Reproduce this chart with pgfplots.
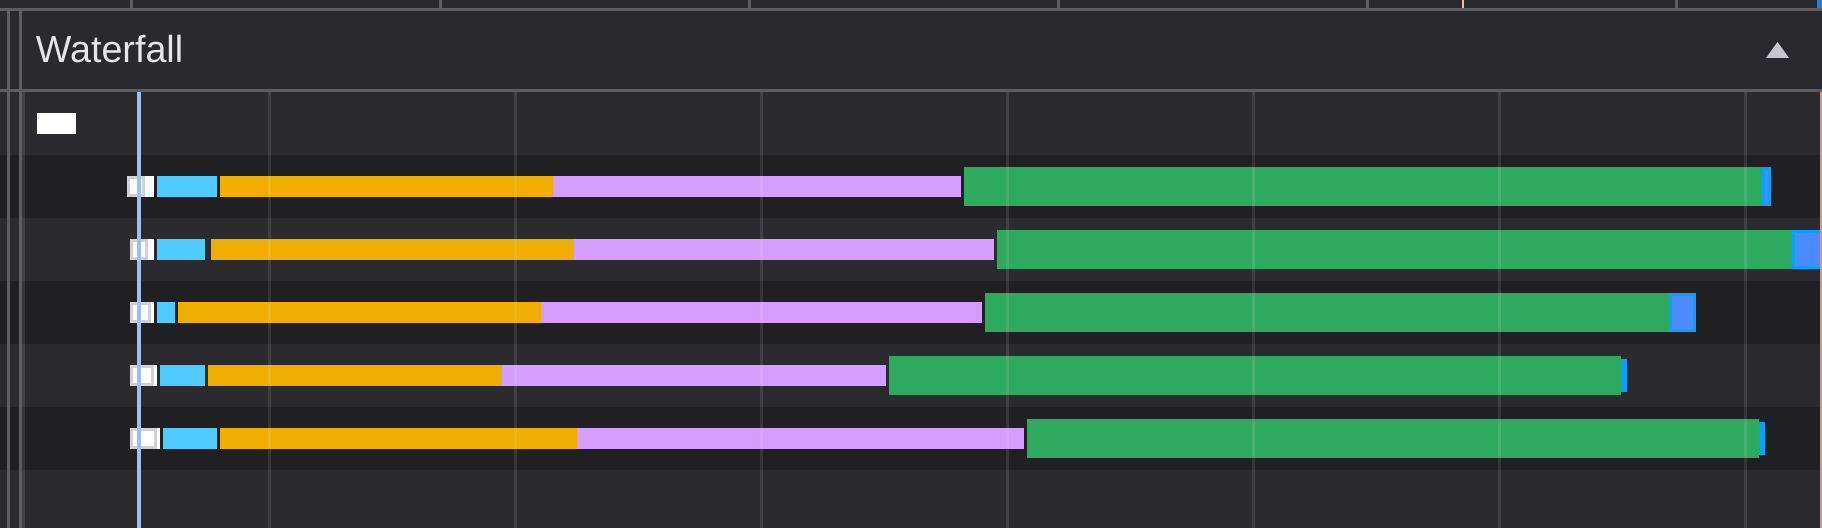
\documentclass[border=0pt]{standalone}
\usepackage{pgfplots}
\pgfplotsset{compat=1.18}
\usepackage{fontspec}
\setmainfont{Liberation Sans}
\definecolor{hdrbg}{HTML}{2A292E}
\definecolor{rowlight}{HTML}{2A2A2F}
\definecolor{rowdark}{HTML}{202023}
\definecolor{sepline}{HTML}{5E5D62}
\definecolor{titletxt}{HTML}{E6E5EA}
\definecolor{tri}{HTML}{C7C6CC}
\definecolor{boxgrey}{HTML}{D2D2D5}
\definecolor{cyanbar}{HTML}{4FCBFF}
\definecolor{orangebar}{HTML}{F0AE00}
\definecolor{purplebar}{HTML}{D59DFF}
\definecolor{greenbar}{HTML}{2EAA5E}
\definecolor{blueout}{HTML}{0AA0FF}
\definecolor{bluein}{HTML}{4A8CFF}
\definecolor{cursor}{HTML}{9DBFF5}
\definecolor{pinkline}{HTML}{F4B8B4}
\definecolor{topblue}{HTML}{1F7ED6}
\begin{document}
\begin{tikzpicture}
\begin{axis}[
  scale only axis, width=911pt, height=264pt,
  xmin=0, xmax=1822, ymin=0, ymax=528, y dir=reverse,
  hide axis, clip=true, unbounded coords=jump,
]
% header and row bands
\fill[hdrbg] (0,0) rectangle (1822,91);
\fill[rowlight] (0,91) rectangle (1822,155);
\fill[rowdark] (0,155) rectangle (1822,218);
\fill[rowlight] (0,218) rectangle (1822,281);
\fill[rowdark] (0,281) rectangle (1822,344);
\fill[rowlight] (0,344) rectangle (1822,407);
\fill[rowdark] (0,407) rectangle (1822,470);
\fill[rowlight] (0,470) rectangle (1822,528);
% top strip ticks
\foreach \t in {131.5,440.5,749.5,1058.5,1367.5,1676.5}
  {\edef\tmp{\noexpand\draw[sepline, line width=1.25pt] (\t,0) -- (\t,9);}\tmp}
\draw[pinkline, line width=1pt] (1463.3,0) -- (1463.3,9);
\fill[topblue] (1817,0) rectangle (1822,8);
% separator lines
\draw[sepline, line width=1.35pt] (0,9.3) -- (1822,9.3);
\draw[sepline, line width=1.35pt] (0,90.3) -- (1822,90.3);
\draw[sepline, line width=1.35pt] (8.6,9) -- (8.6,528);
\draw[sepline, line width=1.35pt] (20.4,9) -- (20.4,528);
% title and triangle
\node[anchor=base west, inner sep=0pt, text=titletxt,
  font=\fontsize{18.85}{22}\selectfont] at (35.5,63) {Waterfall};
\fill[tri] (1766,58) -- (1789,58) -- (1777.5,42) -- cycle;
% row 0 marker
\fill[white] (37,113) rectangle (76,134);
% --- data segments ---
\addplot[boxgrey, line width=10.5pt, mark=none] coordinates {
 (127,186.5) (145,186.5) (nan,nan)
 (130,249.5) (148,249.5) (nan,nan)
 (130,312.5) (151,312.5) (nan,nan)
 (130,375.5) (154,375.5) (nan,nan)
 (130,438.5) (157,438.5)};
\addplot[white, line width=7.5pt, mark=none] coordinates {
 (130,186.5) (142,186.5) (nan,nan)
 (133,249.5) (145,249.5) (nan,nan)
 (133,312.5) (148,312.5) (nan,nan)
 (133,375.5) (151,375.5) (nan,nan)
 (133,438.5) (154,438.5)};
\addplot[white, line width=10.5pt, mark=none] coordinates {
 (145,186.5) (154,186.5) (nan,nan)
 (148,249.5) (154,249.5) (nan,nan)
 (151,312.5) (154,312.5) (nan,nan)
 (154,375.5) (157,375.5) (nan,nan)
 (157,438.5) (160,438.5)};
\addplot[cyanbar, line width=10.5pt, mark=none] coordinates {
 (157,186.5) (217,186.5) (nan,nan)
 (157,249.5) (205,249.5) (nan,nan)
 (157,312.5) (175,312.5) (nan,nan)
 (160,375.5) (205,375.5) (nan,nan)
 (163,438.5) (217,438.5)};
\addplot[orangebar, line width=10.5pt, mark=none] coordinates {
 (220,186.5) (553,186.5) (nan,nan)
 (211,249.5) (574,249.5) (nan,nan)
 (178,312.5) (541,312.5) (nan,nan)
 (208,375.5) (502,375.5) (nan,nan)
 (220,438.5) (577,438.5)};
\addplot[purplebar, line width=10.5pt, mark=none] coordinates {
 (553,186.5) (961,186.5) (nan,nan)
 (574,249.5) (994,249.5) (nan,nan)
 (541,312.5) (982,312.5) (nan,nan)
 (502,375.5) (886,375.5) (nan,nan)
 (577,438.5) (1024,438.5)};
\addplot[greenbar, line width=19.5pt, mark=none] coordinates {
 (964,186.5) (1762,186.5) (nan,nan)
 (997,249.5) (1792,249.5) (nan,nan)
 (985,312.5) (1669,312.5) (nan,nan)
 (889,375.5) (1621,375.5) (nan,nan)
 (1027,438.5) (1759,438.5)};
\addplot[blueout, line width=19.5pt, mark=none] coordinates {
 (1762,186.5) (1771,186.5) (nan,nan)
 (1792,249.5) (1830,249.5) (nan,nan)
 (1669,312.5) (1696,312.5)};
\addplot[bluein, line width=16.5pt, mark=none] coordinates {
 (1765,186.5) (1768,186.5) (nan,nan)
 (1795,249.5) (1830,249.5) (nan,nan)
 (1672,312.5) (1693,312.5)};
\addplot[blueout, line width=16.5pt, mark=none] coordinates {
 (1621,375.5) (1627,375.5) (nan,nan)
 (1759,438.5) (1765,438.5)};
% grid lines on top
\foreach \g in {23.5,269.5,515.5,761.5,1007.5,1253.5,1499.5,1745.5}
  {\edef\tmp{\noexpand\draw[white, opacity=0.1, line width=1.5pt] (\g,91.7) -- (\g,528);}\tmp}
% cursor line
\draw[cursor, line width=1.8pt] (139,91.7) -- (139,528);
\draw[pinkline!80!rowdark, line width=0.8pt] (1821.2,91.7) -- (1821.2,528);
\end{axis}
\end{tikzpicture}
\end{document}
